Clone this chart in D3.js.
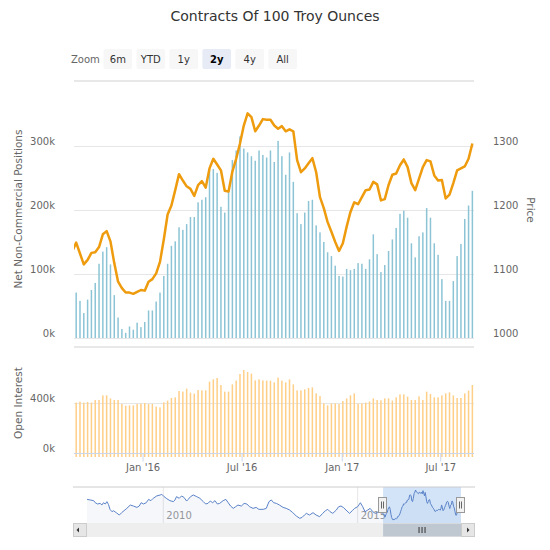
<!DOCTYPE html>
<html><head><meta charset="utf-8">
<script src="https://cdn.jsdelivr.net/npm/d3@7"></script>
<style>body{margin:0;background:#fff;} svg{display:block;font-family:"DejaVu Sans",sans-serif;}</style>
</head><body><svg id="c" width="550" height="550"></svg>
<script>
// ---------------- DATA ----------------
const chartTitle = "Contracts Of 100 Troy Ounces";
const startDate = new Date(2015, 8, 1);          // first weekly report (Tuesday)
// Net non-commercial positions (thousands of contracts), weekly
const netK = [71,58,39,60,75,86,116,135,142,115,67,32,14,8,18,13,24,17,25,43,43,57,71,97,116,144,151,
  173,169,178,189,189,212,216,220,262,264,
  258,205,196,230,
  278,293,315,296,290,
  284,277,293,286,282,293,275,
  308,284,255,290,244,
  195,178,196,214,216,176,
  165,150,134,128,113,97,96,
  108,106,108,117,116,108,123,162,
  131,103,114,136,154,172,194,199,188,148,126,159,165,203,188,148,130,92,58,58,89,128,147,186,207,230];
// Open interest (thousands of contracts), weekly
const oiK = [403,411,403,408,403,424,424,461,461,437,424,424,392,379,381,381,392,395,
  400,392,392,371,365,405,419,440,445,496,491,515,483,475,504,501,501,
  571,589,600,544,491,491,549,579,632,664,648,635,581,589,581,579,
  579,565,603,579,565,589,549,501,501,509,520,525,477,456,397,381,395,
  397,392,416,437,461,477,395,397,403,413,437,424,421,437,437,419,445,
  469,469,451,424,424,453,424,491,472,445,445,461,477,485,461,440,440,477,499,544];
// Gold price, weekly, starting one week before first report
const priceStart = new Date(2015, 7, 25);
const price = [1136,
  1149,1132,1115,1122,1133,1134,1142,1162,1167,1151,1117,1088,1078,1071,1071,1069,1072,1075,1074,1088,1092,1101,1119,1154,1193,1207,1231,
  1256,1246,1237,1233,1222,1239,1245,1235,1265,1280,1271,1262,1230,1229,1260,1280,1304,1332,1351,1345,1323,1332,1342,1341,1341,1332,
  1327,1331,1323,1326,1323,1278,1259,1265,1273,1281,1259,1220,1203,1181,1166,1150,1136,1148,1174,1197,1212,1209,1220,1231,1232,1244,
  1240,1215,1217,1239,1255,1257,1270,1279,1267,1242,1231,1249,1267,1278,1276,1254,1246,1247,1218,1224,1242,1262,1265,1268,1280,1304];
// Navigator history of net positions before the weekly window (decimal years, thousands)
const navYears = [2008.04,2008.12,2008.21,2008.25,2008.31,2008.38,2008.42,2008.46,2008.51,2008.55,2008.59,2008.63,2008.68,2008.72,2008.79,2008.87,2008.93,2008.99,
  2009.06,2009.15,2009.23,2009.32,2009.38,2009.43,2009.49,2009.56,2009.62,2009.68,2009.74,2009.83,2009.92,2009.96,
  2010.02,2010.09,2010.17,2010.26,2010.30,2010.34,2010.41,2010.47,2010.53,2010.60,2010.64,2010.70,2010.77,2010.86,2010.94,
  2011.03,2011.09,2011.15,2011.21,2011.27,2011.33,2011.39,2011.45,2011.54,2011.61,2011.67,2011.73,2011.80,2011.86,2011.92,
  2012.01,2012.08,2012.15,2012.22,2012.31,2012.39,2012.46,2012.57,2012.65,2012.72,2012.78,2012.84,2012.91,2012.99,
  2013.08,2013.16,2013.25,2013.33,2013.42,2013.51,2013.57,2013.63,2013.68,2013.76,2013.85,2013.93,
  2014.02,2014.10,2014.17,2014.23,2014.29,2014.36,2014.45,2014.51,2014.57,2014.63,2014.70,2014.79,2014.86,2014.92,
  2015.00,2015.07,2015.13,2015.19,2015.26,2015.32,2015.39,2015.45,2015.51,2015.57,2015.64];
const navK = [219,213,206,185,172,178,161,185,172,196,168,117,93,103,83,59,83,103,
  127,161,151,137,151,185,172,185,219,206,230,254,264,271,
  247,226,206,196,213,247,230,254,240,202,219,247,264,247,230,
  196,172,178,202,185,206,172,178,206,219,185,151,127,144,161,
  151,178,172,144,127,137,117,117,127,196,213,185,178,161,
  137,127,110,83,49,25,35,59,76,59,83,59,
  42,76,103,117,93,76,110,144,151,137,110,76,103,127,
  144,185,144,93,110,127,93,76,83,117,76];
const xTickDates = [new Date(2016,0,1), new Date(2016,6,1), new Date(2017,0,1), new Date(2017,6,1)];
const netTicks = [0,100,200,300];
const priceTicks = [1000,1100,1200,1300];
const oiTicks = [0,400];
const zoomButtons = ["6m","YTD","1y","2y","4y","All"];
const selectedButton = "2y";
const navTickYears = [2010, 2015];

// ---------------- LAYOUT ----------------
const svg = d3.select("#c");
const L = 74, R = 474;
const weeks = netK.map((_, i) => d3.timeDay.offset(startDate, 7 * i));
const priceDates = price.map((_, i) => d3.timeDay.offset(priceStart, 7 * i));
const x = d3.scaleTime().domain([new Date(2015, 7, 28), new Date(2017, 8, 1)]).range([L, R]);
const yNet = d3.scaleLinear().domain([0, 400]).range([338, 82]);
const yPrice = d3.scaleLinear().domain([1000, 1400]).range([338, 82]);
const yOI = d3.scaleLinear().domain([0, 800]).range([453, 353]);

const gridC = "#e6e6e6", labC = "#666";

// title
svg.append("text").attr("x", 275).attr("y", 21).attr("text-anchor", "middle")
  .attr("font-size", 14).attr("fill", "#333").text(chartTitle);

// zoom buttons
svg.append("text").attr("x", 71).attr("y", 63).attr("font-size", 10).attr("fill", labC).text("Zoom");
const bx = d3.scaleBand().domain(zoomButtons).range([103.5, 297]).paddingInner(0.13).paddingOuter(0);
const btn = svg.append("g").selectAll("g").data(zoomButtons).join("g")
  .attr("transform", d => `translate(${bx(d)},49)`);
btn.append("rect").attr("width", bx.bandwidth()).attr("height", 20).attr("rx", 2)
  .attr("fill", d => d === selectedButton ? "#e6ebf5" : "#f7f7f7");
btn.append("text").attr("x", bx.bandwidth() / 2).attr("y", 14).attr("text-anchor", "middle")
  .attr("font-size", 10).attr("fill", d => d === selectedButton ? "#000" : "#333")
  .attr("font-weight", d => d === selectedButton ? "bold" : "normal").text(d => d);

// pane borders
[81, 347].forEach(yy => svg.append("line").attr("x1", L).attr("x2", R).attr("y1", yy).attr("y2", yy)
  .attr("stroke", "#e0e0e0").attr("stroke-width", 1.5));

function styleAxis(g) {
  g.select(".domain").remove();
  g.selectAll(".tick line").attr("stroke", gridC);
  g.selectAll(".tick text").attr("fill", labC).attr("font-size", 10).attr("dy", -1.5)
   .attr("font-family", "DejaVu Sans");
}
// top pane grid + left axis
svg.append("g").attr("transform", `translate(${L},0)`)
  .call(d3.axisLeft(yNet).tickValues(netTicks).tickSize(-(R - L)).tickPadding(19).tickFormat(d => d + "k"))
  .call(styleAxis);
// right axis
svg.append("g").attr("transform", `translate(${R},0)`)
  .call(d3.axisRight(yPrice).tickValues(priceTicks).tickSize(0).tickPadding(19).tickFormat(d3.format("d")))
  .call(styleAxis);
// bottom pane grid + axis
svg.append("g").attr("transform", `translate(${L},0)`)
  .call(d3.axisLeft(yOI).tickValues(oiTicks).tickSize(-(R - L)).tickPadding(19).tickFormat(d => d + "k"))
  .call(styleAxis);

// axis titles
svg.append("text").attr("transform", "translate(22,209) rotate(-90)").attr("text-anchor", "middle")
  .attr("font-size", 10.5).attr("fill", labC).text("Net Non-Commercial Positions");
svg.append("text").attr("transform", "translate(527,210) rotate(90)").attr("text-anchor", "middle")
  .attr("font-size", 10.5).attr("fill", labC).text("Price");
svg.append("text").attr("transform", "translate(22,403) rotate(-90)").attr("text-anchor", "middle")
  .attr("font-size", 10.5).attr("fill", labC).text("Open Interest");

// top bars
svg.append("g").selectAll("rect").data(netK).join("rect")
  .attr("x", (d, i) => x(weeks[i]) - 0.75).attr("width", 1.5)
  .attr("y", d => yNet(d)).attr("height", d => yNet(0) - yNet(d)).attr("fill", "#8cc4d6");
// price line
svg.append("clipPath").attr("id", "clipTop").append("rect").attr("x", L).attr("y", 70).attr("width", R - L).attr("height", 280);
svg.append("path").datum(price).attr("clip-path", "url(#clipTop)")
  .attr("d", d3.line().x((d, i) => x(priceDates[i])).y(d => yPrice(d)))
  .attr("fill", "none").attr("stroke", "#ee9b0e").attr("stroke-width", 2.5).attr("stroke-linejoin", "round");

// bottom bars
svg.append("g").selectAll("rect").data(oiK).join("rect")
  .attr("x", (d, i) => x(weeks[i]) - 0.75).attr("width", 1.5)
  .attr("y", d => yOI(d)).attr("height", d => yOI(0) - yOI(d) + 4).attr("fill", "#ffcf87");

// x axis
const xa = svg.append("g").attr("transform", "translate(0,453.5)")
  .call(d3.axisBottom(x).tickValues(xTickDates).tickSize(8).tickPadding(2)
    .tickFormat(d => d3.timeFormat("%b '%y")(d)));
xa.select(".domain").attr("stroke", "#ccd6eb").attr("d", `M${L},0H${R}`);
xa.selectAll(".tick line").attr("stroke", "#ccd6eb");
xa.selectAll(".tick text").attr("fill", labC).attr("font-size", 10).attr("font-family", "DejaVu Sans");

// ---------------- NAVIGATOR ----------------
const NT = 487, NB = 523, NL = 87, NR = 461;
const yearToDate = y => new Date(new Date(Math.floor(y), 0, 1).getTime() + (y % 1) * 365.25 * 864e5);
const navDates = navYears.map(yearToDate).concat(weeks);
const navVals = navK.concat(netK);
const xNav = d3.scaleTime().domain([new Date(2008, 0, 15), weeks[weeks.length - 1]]).range([NL, NR]);
const ext = d3.extent(navVals), pad = (ext[1] - ext[0]) * 0.1;
const yNav = d3.scaleLinear().domain([ext[0] - pad, ext[1] + pad]).range([NB, NT]);

navTickYears.forEach(yr => {
  const xx = xNav(new Date(yr, 0, 1));
  svg.append("line").attr("x1", xx).attr("x2", xx).attr("y1", NT).attr("y2", NB).attr("stroke", "#e6e6e6");
  svg.append("text").attr("x", xx + 3).attr("y", 519).attr("font-size", 10).attr("fill", "#999").text(yr);
});
svg.append("path").datum(navVals)
  .attr("d", d3.area().x((d, i) => xNav(navDates[i])).y0(NB).y1(d => yNav(d)))
  .attr("fill", "rgba(51,92,173,0.05)");
const selL = xNav(x.domain()[0]), selR = NR;
svg.append("rect").attr("x", selL).attr("y", NT).attr("width", selR - selL).attr("height", NB - NT)
  .attr("fill", "rgba(128,179,236,0.35)");
svg.append("path").datum(navVals)
  .attr("d", d3.line().x((d, i) => xNav(navDates[i])).y(d => yNav(d)))
  .attr("fill", "none").attr("stroke", "#5b83c8").attr("stroke-width", 1);
svg.append("line").attr("x1", 73).attr("x2", 475).attr("y1", NT).attr("y2", NT).attr("stroke", "#cccccc");

// scrollbar
svg.append("rect").attr("x", 73.5).attr("y", 523.5).attr("width", 401).attr("height", 13)
  .attr("fill", "#eeeeee").attr("stroke", "#eeeeee");
svg.append("rect").attr("x", selL).attr("y", 523.5).attr("width", selR - selL).attr("height", 13)
  .attr("fill", "#bfc8d1");
[[73.5, "M79,527.5 L79,532.5 L76.5,530 Z"], [461.5, "M467,527.5 L467,532.5 L469.5,530 Z"]].forEach(([bxp, arrow]) => {
  svg.append("rect").attr("x", bxp).attr("y", 523.5).attr("width", 13).attr("height", 13)
    .attr("fill", "#e6e6e6").attr("stroke", "#cccccc");
  svg.append("path").attr("d", arrow).attr("fill", "#333");
});
const gc = (selL + selR) / 2;
[-3, 0, 3].forEach(o => svg.append("line").attr("x1", gc + o).attr("x2", gc + o).attr("y1", 527).attr("y2", 533)
  .attr("stroke", "#333").attr("stroke-width", 1));

[selL, selR].forEach(hx => {
  const g = svg.append("g").attr("transform", `translate(${Math.round(hx) - 4.5},497.5)`);
  g.append("rect").attr("width", 8).attr("height", 15).attr("fill", "#f2f2f2").attr("stroke", "#999");
  g.append("line").attr("x1", 3).attr("x2", 3).attr("y1", 4).attr("y2", 11).attr("stroke", "#666");
  g.append("line").attr("x1", 5).attr("x2", 5).attr("y1", 4).attr("y2", 11).attr("stroke", "#666");
});
</script></body></html>
